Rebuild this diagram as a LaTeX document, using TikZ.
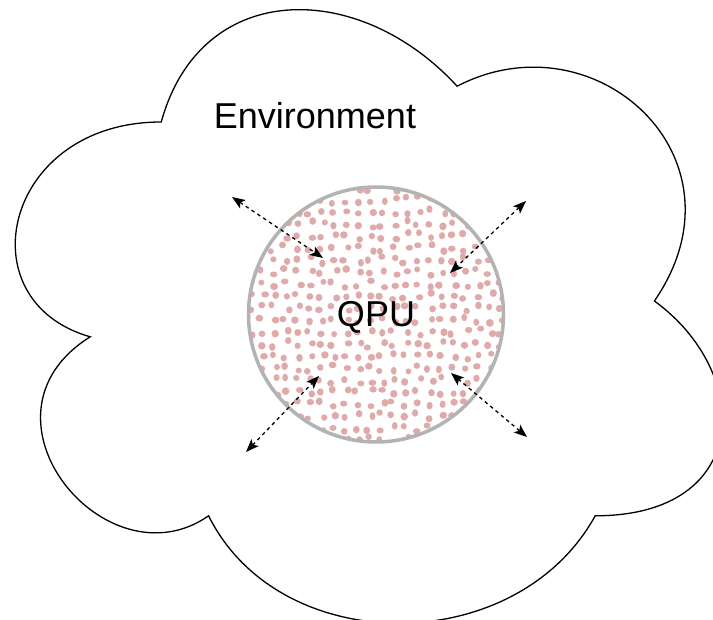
\documentclass[tikz,border=0pt]{standalone}
\usepackage{fontspec}
\setmainfont{Liberation Sans}
\usetikzlibrary{arrows.meta}
\definecolor{qpugray}{RGB}{179,179,179}
\definecolor{qpudot}{RGB}{222,170,170}
\tikzset{
    couple/.style={{Stealth[length=13pt,width=10pt,inset=3pt]}-{Stealth[length=13pt,width=10pt,inset=3pt]},
        line width=1.3pt, dash pattern=on 3.5pt off 3.5pt},
}
\begin{document}
\begin{tikzpicture}[x=1pt,y=-1pt]
        \useasboundingbox (0,0) rectangle (713,620);
        \clip (0,0) rectangle (713,620);

        % environment cloud
        \draw[line width=1.3pt, fill=white] (161.25,122)
            .. controls (3.45,122) and (-36,301) .. (90.24,336.8)
            .. controls (-36,415.56) and (106.02,587.4) .. (208.59,515.8)
            .. controls (279.6,659) and (516.3,659) .. (595.2,515.8)
            .. controls (753,515.8) and (753,372.6) .. (654.4,301)
            .. controls (753,157.8) and (595.2,14.6) .. (457.1,86.2)
            .. controls (358.5,-21.2) and (200.7,-21.2) .. (161.25,122) -- cycle;
        \node (env) at (315,116) {\fontsize{36}{43}\selectfont Environment};

        % qpu dots
        \begin{scope}
            \clip (376,314.5) circle [radius=128];
            \pgfmathsetseed{42}
            \foreach \x in {250,262,...,502}
                \foreach \y in {188,200,...,440}
                    \fill[qpudot] ({\x+3.5*rand},{\y+3.5*rand})
                        ellipse [x radius={3.4+0.5*rand}, y radius={3.4+0.5*rand}];
        \end{scope}
        \node[shape=circle,draw=qpugray,line width=3.5pt,minimum size=255pt,inner sep=0pt] (qpu) at (376,314.5) {};
        \node (qpulabel) at (376,317) {\fontsize{36}{43}\selectfont QPU};

        % coupling to the environment
        \coordinate (nw1) at (232,197);
        \coordinate (nw2) at (323,258);
        \coordinate (ne1) at (526,201);
        \coordinate (ne2) at (450,273);
        \coordinate (sw1) at (246,452);
        \coordinate (sw2) at (319,376);
        \coordinate (se1) at (527,437);
        \coordinate (se2) at (451,373);

        \path [couple] (nw1) edge (nw2);
        \path [couple] (ne1) edge (ne2);
        \path [couple] (sw1) edge (sw2);
        \path [couple] (se1) edge (se2);
\end{tikzpicture}
\end{document}
